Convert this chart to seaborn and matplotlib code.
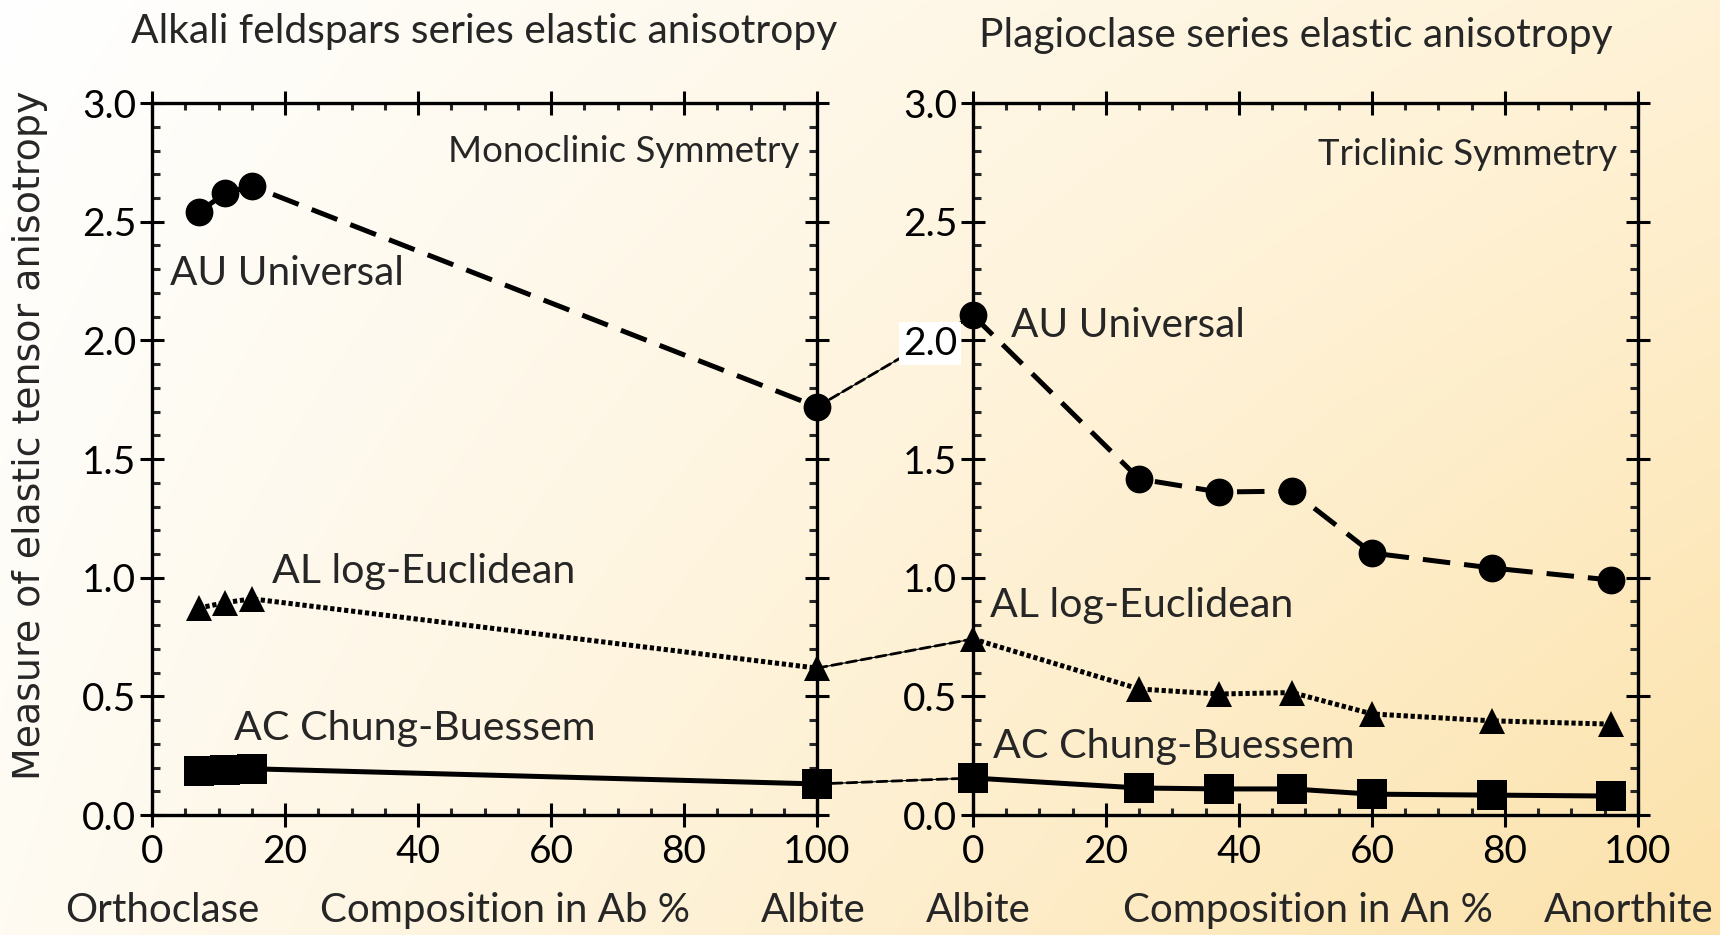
import numpy as np
import pandas as pd
import matplotlib
matplotlib.use("Agg")
import matplotlib.pyplot as plt
from matplotlib.patches import ConnectionPatch
from matplotlib.ticker import MultipleLocator
import seaborn as sns

# Alkali feldspar series: composition in Ab %
ab_pct = [7, 11, 15, 100]
au_alkali = [2.54, 2.62, 2.65, 1.72]
al_alkali = [0.872, 0.895, 0.911, 0.619]
ac_alkali = [0.187, 0.190, 0.195, 0.131]

# Plagioclase series: composition in An %
an_pct = [0, 25, 37, 48, 60, 78, 96]
au_plag = [2.105, 1.416, 1.361, 1.365, 1.104, 1.041, 0.990]
al_plag = [0.742, 0.531, 0.510, 0.516, 0.426, 0.397, 0.383]
ac_plag = [0.156, 0.114, 0.110, 0.110, 0.088, 0.084, 0.080]

x_ticks = [0, 20, 40, 60, 80, 100]
x_tick_labels = ["0", "20", "40", "60", "80", "100"]
y_ticks = [0.0, 0.5, 1.0, 1.5, 2.0, 2.5, 3.0]
y_tick_labels = ["0.0", "0.5", "1.0", "1.5", "2.0", "2.5", "3.0"]

sns.set_style("ticks")
TXT = "Lato"
plt.rcParams["font.family"] = [TXT, "DejaVu Sans"]

fig = plt.figure(figsize=(17.2, 9.35), dpi=100)
fig.patch.set_facecolor("white")

# soft white-to-cream background wash
bg = fig.add_axes([0, 0, 1, 1], zorder=-10)
gx = np.linspace(0, 1, 344)
gy = np.linspace(0, 1, 187)
X, Y = np.meshgrid(gx, gy)
tl = np.array([255, 255, 255]) / 255
tr = np.array([255, 242, 214]) / 255
bl = np.array([255, 251, 242]) / 255
br = np.array([252, 226, 170]) / 255
img = ((1 - X)[..., None] * (1 - Y)[..., None] * tl
       + X[..., None] * (1 - Y)[..., None] * tr
       + (1 - X)[..., None] * Y[..., None] * bl
       + X[..., None] * Y[..., None] * br)
bg.imshow(img, aspect="auto", extent=[0, 1, 0, 1], origin="upper", interpolation="bilinear")
bg.set_axis_off()

ax1 = fig.add_axes([0.0884, 0.1283, 0.3866, 0.7615])
ax2 = fig.add_axes([0.5657, 0.1283, 0.3866, 0.7615])

LW = 3.6
au_style = dict(color="black", linestyle=(0, (5.5, 2.8)), lw=LW, marker="o", markersize=20)
al_style = dict(color="black", linestyle=(0, (0.85, 0.55)), lw=LW, marker="^", markersize=19)
ac_style = dict(color="black", linestyle="-", lw=LW, marker="s", markersize=21)

def draw_series(ax, x, y, style):
    df = pd.DataFrame({"x": x, "y": y})
    sns.lineplot(data=df, x="x", y="y", ax=ax, markeredgecolor="black",
                 markeredgewidth=0, clip_on=False, zorder=5, **style)

for x, y, st in [(ab_pct, au_alkali, au_style), (ab_pct, al_alkali, al_style),
                 (ab_pct, ac_alkali, ac_style)]:
    draw_series(ax1, x, y, st)
for x, y, st in [(an_pct, au_plag, au_style), (an_pct, al_plag, al_style),
                 (an_pct, ac_plag, ac_style)]:
    draw_series(ax2, x, y, st)

for ax in (ax1, ax2):
    ax.set_facecolor("none")
    ax.set_xlim(0, 100)
    ax.set_ylim(0, 3.0)
    ax.set_xlabel("")
    ax.set_ylabel("")
    ax.set_xticks(x_ticks, x_tick_labels)
    ax.set_yticks(y_ticks, y_tick_labels)
    ax.xaxis.set_minor_locator(MultipleLocator(5))
    ax.yaxis.set_minor_locator(MultipleLocator(0.1))
    for sp in ax.spines.values():
        sp.set_visible(True)
        sp.set_linewidth(2.4)
        sp.set_color("black")
    ax.tick_params(axis="y", which="major", direction="inout", length=17, width=2.2,
                   left=True, right=True, labelsize=28, pad=3, colors="black")
    ax.tick_params(axis="y", which="minor", direction="in", length=5.5, width=2.2,
                   left=True, right=True)
    ax.tick_params(axis="x", which="major", direction="inout", length=17, width=2.2,
                   top=True, bottom=True, labelsize=28, pad=5, colors="black")
    ax.tick_params(axis="x", which="minor", direction="in", length=5, width=2.2,
                   top=True, bottom=True)
    for lab in ax.get_xticklabels() + ax.get_yticklabels():
        lab.set_fontfamily(TXT)

# white backing behind the 2.0 label of the plagioclase panel
for lab in ax2.get_yticklabels():
    if lab.get_text() == "2.0":
        lab.set_bbox(dict(facecolor="white", edgecolor="none", pad=2.5))

# dashed links between the albite end-members of both series
for ya, yb in [(au_alkali[-1], au_plag[0]), (al_alkali[-1], al_plag[0]),
               (ac_alkali[-1], ac_plag[0])]:
    for lw, ls in [(0.8, "-"), (2.0, (0, (3.6, 1.8)))]:
        con = ConnectionPatch(xyA=(ab_pct[-1], ya), coordsA=ax1.transData,
                              xyB=(an_pct[0], yb), coordsB=ax2.transData,
                              color="black", lw=lw, linestyle=ls, zorder=-1)
        fig.add_artist(con)

# panel titles
ax1.text(0.5, 1.084, "Alkali feldspars series elastic anisotropy", transform=ax1.transAxes,
         ha="center", va="baseline", fontsize=29.3)
ax2.text(0.486, 1.079, "Plagioclase series elastic anisotropy", transform=ax2.transAxes,
         ha="center", va="baseline", fontsize=29.3)

# symmetry notes
ax1.text(97.3, 2.752, "Monoclinic Symmetry", ha="right", va="baseline", fontsize=26.4)
ax2.text(96.8, 2.739, "Triclinic Symmetry", ha="right", va="baseline", fontsize=26.4)

# series labels
ax1.text(2.7, 2.233, "AU Universal", ha="left", va="baseline", fontsize=29.2)
ax1.text(18.0, 0.978, "AL log-Euclidean", ha="left", va="baseline", fontsize=29.6)
ax1.text(12.3, 0.316, "AC Chung-Buessem", ha="left", va="baseline", fontsize=29.6)
ax2.text(5.7, 2.015, "AU Universal", ha="left", va="baseline", fontsize=29.2)
ax2.text(2.6, 0.834, "AL log-Euclidean", ha="left", va="baseline", fontsize=29.6)
ax2.text(3.0, 0.240, "AC Chung-Buessem", ha="left", va="baseline", fontsize=29.6)

# composition axis captions
for ax, items in [(ax1, [(1.5, "Orthoclase"), (53.1, "Composition in Ab %"), (99.4, "Albite")]),
                  (ax2, [(0.8, "Albite"), (50.3, "Composition in An %"), (98.6, "Anorthite")])]:
    tr_ = ax.get_xaxis_transform()
    for xv, s in items:
        ax.text(xv, -0.150, s, transform=tr_, ha="center", va="baseline", fontsize=29,
                clip_on=False)

fig.text(30 / 1720, 0.534, "Measure of elastic tensor anisotropy", rotation=90,
         ha="center", va="center", fontsize=27.3, family="DejaVu Sans")

fig.savefig("out.png", dpi=100)
